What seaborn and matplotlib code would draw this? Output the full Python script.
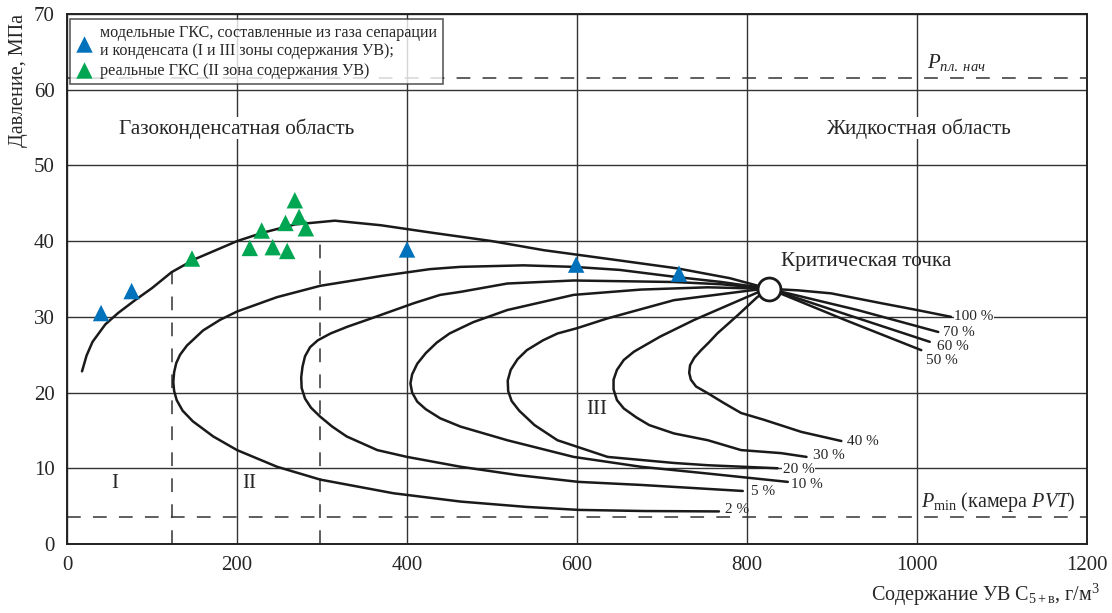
import matplotlib
matplotlib.use("Agg")
import matplotlib.pyplot as plt
import seaborn as sns
import pandas as pd

# --- data (x: г/м3, y: МПа) ---
blue_x = [40, 76, 400, 599, 720]
blue_y = [30.5, 33.4, 38.9, 36.9, 35.7]

green_x = [147, 215, 229, 242, 257, 259, 268, 273, 281]
green_y = [37.7, 39.1, 41.4, 39.2, 42.4, 38.7, 45.4, 43.2, 41.7]

crit_x = [826]
crit_y = [33.7]

# two-phase envelope
env_x = [17.6, 23, 30, 45, 60, 80, 100, 123, 150, 200, 230, 268, 315, 369, 430, 500, 561, 640, 718, 780, 826]
env_y = [22.8, 24.9, 26.7, 29.0, 30.5, 32.2, 33.8, 35.9, 37.6, 40.0, 41.1, 42.2, 42.7, 42.1, 41.1, 40.0, 38.8, 37.6, 36.4, 35.1, 33.7]

# iso-lines of liquid fraction
c2_x = [826, 770, 714, 650, 596, 537, 463, 427, 370, 298, 247, 200, 180, 160, 141, 133, 128.5, 126, 125, 126, 129, 136, 148, 172, 200, 247, 298, 384, 463, 540, 602, 680, 767]
c2_y = [33.7, 34.6, 35.3, 36.2, 36.6, 36.8, 36.6, 36.3, 35.4, 34.1, 32.6, 30.7, 29.6, 28.2, 26.2, 25.0, 23.9, 22.7, 21.4, 20.2, 19.0, 17.6, 16.2, 14.2, 12.4, 10.2, 8.5, 6.7, 5.6, 4.9, 4.5, 4.35, 4.3]

c5_x = [826, 770, 714, 596, 518, 463, 439, 408, 353, 330, 310, 295, 286, 280, 277, 275.5, 276, 280, 287, 298, 312, 329, 365, 400, 463, 530, 602, 675, 795]
c5_y = [33.7, 34.3, 34.6, 34.8, 34.4, 33.3, 32.9, 31.8, 29.6, 28.7, 27.8, 26.9, 26.0, 24.8, 23.4, 22.0, 20.6, 19.2, 18.0, 16.8, 15.5, 14.2, 12.4, 11.5, 10.2, 9.1, 8.2, 7.8, 7.0]

c10_x = [826, 754, 675, 596, 518, 478, 463, 450, 435, 422, 412, 406, 404, 406, 412, 422, 439, 463, 518, 596, 675, 754, 848]
c10_y = [33.7, 33.9, 33.6, 32.9, 30.9, 29.3, 28.5, 27.8, 26.6, 25.2, 23.8, 22.4, 21.2, 20.0, 18.8, 17.8, 16.6, 15.5, 13.7, 11.5, 10.2, 9.3, 8.2]

c20_x = [826, 812, 714, 636, 600, 577, 560, 541, 530, 522, 518.5, 519, 523, 532, 550, 577, 636, 714, 754, 836]
c20_y = [33.7, 33.6, 32.2, 29.8, 28.5, 27.8, 26.9, 25.6, 24.4, 23.0, 21.6, 20.2, 18.9, 17.6, 15.7, 13.7, 11.5, 10.7, 10.4, 10.0]

c30_x = [826, 812, 777, 738, 698, 667, 655, 647, 643, 643, 647, 655, 670, 685, 714, 754, 793, 840, 870]
c30_y = [33.7, 33.2, 31.5, 29.6, 27.4, 25.4, 24.3, 23.0, 21.7, 20.4, 19.0, 17.9, 16.7, 15.7, 14.6, 13.7, 12.4, 12.0, 11.5]

c40_x = [826, 812, 789, 765, 755, 746, 738, 733, 732, 734, 740, 754, 773, 793, 820, 864, 911]
c40_y = [33.7, 32.6, 30.2, 27.8, 26.6, 25.6, 24.6, 23.6, 22.6, 21.7, 20.8, 19.9, 18.6, 17.3, 16.4, 14.8, 13.6]

c100_x = [826, 860, 899, 958, 1000, 1040]
c100_y = [33.7, 33.5, 33.1, 31.8, 30.9, 30.0]
c70_x = [826, 930, 1025]
c70_y = [33.7, 30.9, 28.0]
c60_x = [826, 920, 1015]
c60_y = [33.7, 30.2, 26.7]
c50_x = [826, 915, 1005]
c50_y = [33.7, 29.6, 25.6]

curve_labels = ["2 %", "5 %", "10 %", "20 %", "30 %", "40 %", "100 %", "70 %", "60 %", "50 %"]
label_x = [774, 805, 852, 842, 878, 918, 1044, 1031, 1023, 1011]
label_y = [4.6, 6.9, 7.9, 9.8, 11.75, 13.5, 30.0, 27.95, 26.1, 24.2]
label_box = [False, False, False, True, False, False, True, False, False, False]

zone_x1 = 123
zone_x2 = 298
zone_top1 = 35.9
zone_top2 = 40.3
p_start = 61.5
p_min = 3.5

x_ticks = [0, 200, 400, 600, 800, 1000, 1200]
y_ticks = [0, 10, 20, 30, 40, 50, 60, 70]

BLUE = "#0072BC"
GREEN = "#00A651"
INK = "#1a1a1a"

sns.set_style("white")
plt.rcParams["font.family"] = ["Liberation Serif", "DejaVu Serif"]
plt.rcParams["mathtext.fontset"] = "custom"
plt.rcParams["mathtext.rm"] = "Liberation Serif"
plt.rcParams["mathtext.it"] = "Liberation Serif:italic"

fig = plt.figure(figsize=(11.12, 6.13), dpi=100)
ax = fig.add_axes([0.0603, 0.1126, 0.9172, 0.8646])

ax.set_xlim(0, 1200)
ax.set_ylim(0, 70)
ax.set_xticks(x_ticks)
ax.set_yticks(y_ticks)
ax.tick_params(length=0, labelsize=15, pad=9)
ax.grid(True, color="#333333", linewidth=1.0, zorder=0)
ax.set_axisbelow(True)
for s in ax.spines.values():
    s.set_color("#222222")
    s.set_linewidth(1.4)

# dashed reference lines
dash = dict(color="#333333", linewidth=1.1, linestyle=(0, (9, 8)), zorder=1)
ax.axhline(p_start, **dash)
ax.axhline(p_min, **dash)
ax.plot([zone_x1, zone_x1], [0, zone_top1], **dash)
ax.plot([zone_x2, zone_x2], [0, zone_top2], **dash)

# curves
curves = [(env_x, env_y), (c2_x, c2_y), (c5_x, c5_y), (c10_x, c10_y), (c20_x, c20_y),
          (c30_x, c30_y), (c40_x, c40_y), (c100_x, c100_y), (c70_x, c70_y),
          (c60_x, c60_y), (c50_x, c50_y)]
for cx, cy in curves:
    sns.lineplot(x=cx, y=cy, sort=False, estimator=None, color=INK, linewidth=1.8,
                 ax=ax, zorder=3)

for lab, lx, ly, boxed in zip(curve_labels, label_x, label_y, label_box):
    kw = dict(bbox=dict(facecolor="white", edgecolor="none", pad=0.2)) if boxed else {}
    ax.text(lx, ly, lab, fontsize=11, ha="left", va="center", zorder=6, **kw)

# markers
pts = pd.DataFrame({
    "x": blue_x + green_x,
    "y": blue_y + green_y,
    "kind": ["model"] * len(blue_x) + ["real"] * len(green_x),
})
sns.scatterplot(data=pts, x="x", y="y", hue="kind", palette={"model": BLUE, "real": GREEN},
                marker="^", s=140, linewidth=0, ax=ax, zorder=4, legend=False)

ax.plot(crit_x, crit_y, marker="o", markersize=16.5, markerfacecolor="white",
        markeredgecolor=INK, markeredgewidth=2, linestyle="none", zorder=5)

# legend
h1 = ax.scatter([], [], marker="^", s=140, color=BLUE, linewidth=0)
h2 = ax.scatter([], [], marker="^", s=140, color=GREEN, linewidth=0)
leg = ax.legend([h1, h2],
                ["модельные ГКС, составленные из газа сепарации\nи конденсата (I и III зоны содержания УВ);",
                 "реальные ГКС (II зона содержания УВ)"],
                loc="upper left", bbox_to_anchor=(0.003, 0.99), borderaxespad=0,
                fontsize=11.6, frameon=True, fancybox=False, handlelength=1.0,
                handletextpad=0.5, borderpad=0.35, labelspacing=0.2)
leg.get_frame().set_edgecolor("#333333")
leg.get_frame().set_linewidth(1.2)
leg.set_zorder(7)

# annotations
ax.text(199, 54.9, "Газоконденсатная область", fontsize=15.3, ha="center", va="center",
        bbox=dict(facecolor="white", edgecolor="none", pad=0.5), zorder=2)
ax.text(1002, 54.9, "Жидкостная область", fontsize=15.3, ha="center", va="center",
        bbox=dict(facecolor="white", edgecolor="none", pad=0.5), zorder=2)
ax.text(940, 37.3, "Критическая точка", fontsize=15.3, ha="center", va="center", zorder=6)
ax.text(56, 8.0, "I", fontsize=15, ha="center", va="center")
ax.text(214, 8.0, "II", fontsize=15, ha="center", va="center")
ax.text(623, 17.7, "III", fontsize=15, ha="center", va="center")
ax.text(1012, 63.6, r"$P_{пл.\ нач}$", fontsize=15, ha="left", va="center",
        bbox=dict(facecolor="white", edgecolor="none", pad=0.5), zorder=6)
ax.text(1005, 5.6, r"$P_{\mathrm{min}}$ (камера $PVT$)", fontsize=14.5, ha="left", va="center",
        bbox=dict(facecolor="white", edgecolor="none", pad=0.3), zorder=6)

ax.set_xlabel("")
ax.set_ylabel("")
ax.text(-0.048, 0.875, "Давление, МПа", fontsize=14.5, rotation=90, ha="center", va="center",
        transform=ax.transAxes)
ax.text(1.013, -0.097, r"Содержание УВ С$_{5+\mathrm{в}}$, г/м$^3$", fontsize=14.5,
        ha="right", va="center", transform=ax.transAxes)

fig.savefig("out.png", dpi=100)
